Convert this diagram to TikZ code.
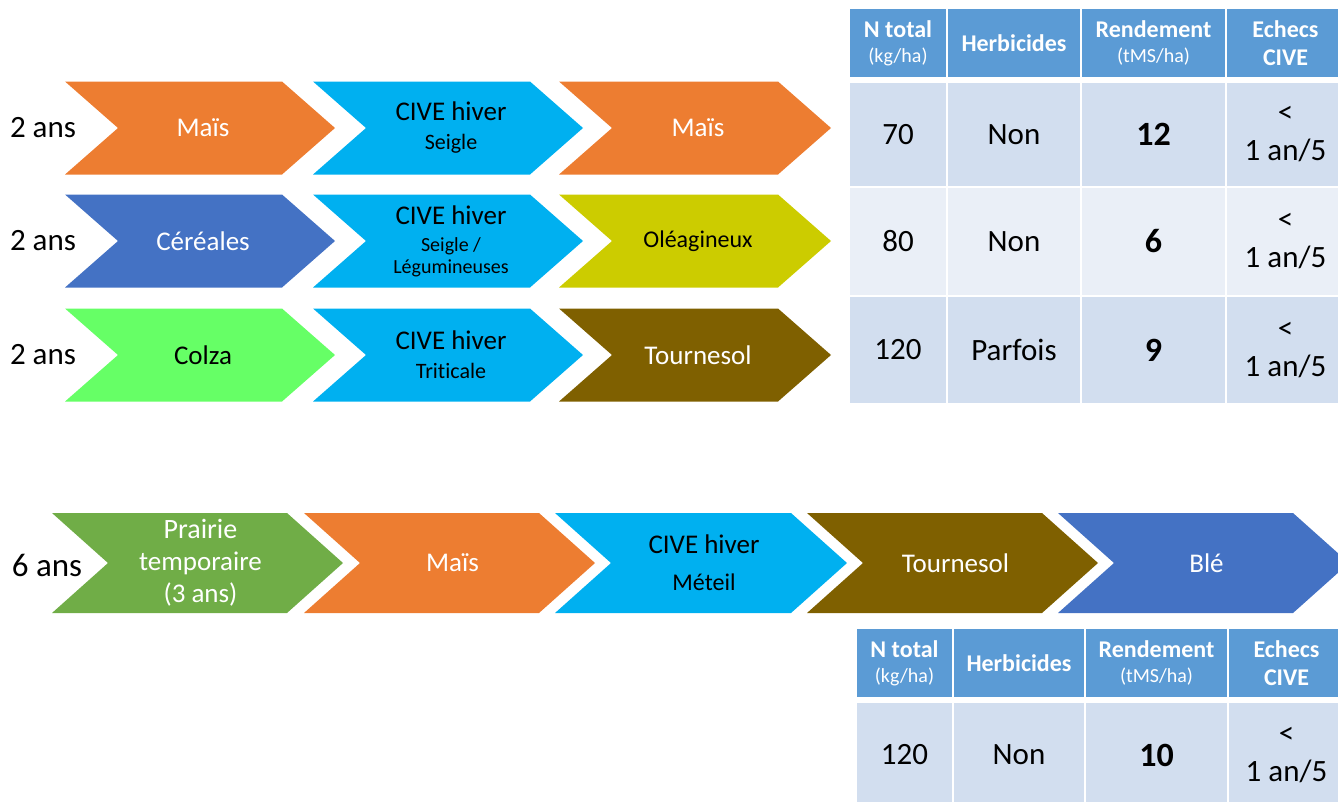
\documentclass[tikz,border=0pt]{standalone}
\usepackage{fontspec}
\setmainfont{Carlito}[Ligatures=NoCommon]
\usepackage{xcolor}
\usepackage{tikz}

\definecolor{maisorange}{HTML}{ED7D31}
\definecolor{civecyan}{HTML}{00B0F0}
\definecolor{cerealblue}{HTML}{4472C4}
\definecolor{oleayellow}{HTML}{CCCC00}
\definecolor{colzagreen}{HTML}{66FF66}
\definecolor{tournbrown}{HTML}{7F6000}
\definecolor{prairiegreen}{HTML}{70AD47}
\definecolor{headblue}{HTML}{5B9BD5}
\definecolor{rowdark}{HTML}{D2DEEF}
\definecolor{rowlight}{HTML}{EAEFF7}

\tikzset{
  chevtext/.style={align=center, inner sep=0pt, font=\fontsize{27}{32}\selectfont},
  yearlabel/.style={inner sep=0pt, font=\fontsize{31}{38}\selectfont},
  headcell/.style={align=center, inner sep=0pt, text=white, font=\fontsize{24}{28}\selectfont\bfseries},
  bodycell/.style={align=center, inner sep=0pt, font=\fontsize{31}{38}\selectfont},
  cellgap/.style={draw=white, line width=2pt}
}

% name, left x, centre y, width, height, depth, fill, text colour, text
\newcommand{\chevron}[9]{%
  \fill[#7] ({#2},{#3-#5/2}) -- ({#2+#4-#6},{#3-#5/2}) -- ({#2+#4},{#3})
    -- ({#2+#4-#6},{#3+#5/2}) -- ({#2},{#3+#5/2}) -- ({#2+#6},{#3}) -- cycle;
  \node[chevtext, text=#8] (#1) at ({#2+#4/2+3},{#3}) {#9};
}
% name, x0, y0, x1, y1, fill, node style, text
\newcommand{\tabcell}[8]{%
  \fill[#6, cellgap] ({#2},{#3}) rectangle ({#4},{#5});
  \node[#7] (#1) at ({(#2+#4)/2},{(#3+#5)/2}) {#8};
}
\newcommand{\sub}[1]{{\fontsize{22}{25}\selectfont #1}}
\newcommand{\unit}[1]{{\fontsize{20}{22}\selectfont\mdseries #1}}
\newcommand{\echec}{<\\1 an/5}

\begin{document}
\begin{tikzpicture}[x=1pt, y=-1pt]
    \useasboundingbox (0,0) rectangle (1338,801);
    \clip (0,0) rectangle (1338,801);

    % rotations sur 2 ans
    \node[yearlabel] (ans1) at (43,128) {2 ans};
    \node[yearlabel] (ans2) at (43,241) {2 ans};
    \node[yearlabel] (ans3) at (43,355) {2 ans};

    \chevron{mais1}{65}{128}{270}{93}{53}{maisorange}{white}{Maïs}
    \chevron{cive1}{313}{128}{270}{93}{53}{civecyan}{black}{CIVE hiver\\[-3pt]\sub{Seigle}}
    \chevron{mais2}{559}{128}{272}{93}{53}{maisorange}{white}{Maïs}

    \chevron{cereales}{65}{241}{270}{93}{53}{cerealblue}{white}{Céréales}
    \chevron{cive2}{313}{241}{270}{93}{53}{civecyan}{black}{CIVE hiver\\[-5pt]{\fontsize{20}{22}\selectfont Seigle /}\\[-10pt]{\fontsize{20}{22}\selectfont Légumineuses}}
    \chevron{oleag}{559}{241}{272}{93}{53}{oleayellow}{black}{\fontsize{24}{28}\selectfont Oléagineux}

    \chevron{colza}{65}{355}{270}{93}{53}{colzagreen}{black}{Colza}
    \chevron{cive3}{313}{355}{270}{93}{53}{civecyan}{black}{CIVE hiver\\[-3pt]\sub{Triticale}}
    \chevron{tourn1}{559}{355}{272}{93}{53}{tournbrown}{white}{Tournesol}

    % tableau du haut
    \tabcell{hN}{849}{8}{947}{78}{headblue}{headcell}{N total\\[-3pt]\unit{(kg/ha)}}
    \tabcell{hH}{947}{8}{1081}{78}{headblue}{headcell}{Herbicides}
    \tabcell{hR}{1081}{8}{1226}{78}{headblue}{headcell}{Rendement\\[-3pt]\unit{(tMS/ha)}}
    \tabcell{hE}{1226}{8}{1345}{78}{headblue}{headcell}{Echecs\\CIVE}

    \tabcell{n1}{849}{82}{947}{187}{rowdark}{bodycell}{70}
    \tabcell{h1}{947}{82}{1081}{187}{rowdark}{bodycell}{Non}
    \tabcell{r1}{1081}{82}{1226}{187}{rowdark}{bodycell}{\bfseries\fontsize{34}{38}\selectfont 12}
    \tabcell{e1}{1226}{82}{1345}{187}{rowdark}{bodycell}{\echec}

    \tabcell{n2}{849}{187}{947}{296}{rowlight}{bodycell}{80}
    \tabcell{h2}{947}{187}{1081}{296}{rowlight}{bodycell}{Non}
    \tabcell{r2}{1081}{187}{1226}{296}{rowlight}{bodycell}{\bfseries\fontsize{34}{38}\selectfont 6}
    \tabcell{e2}{1226}{187}{1345}{296}{rowlight}{bodycell}{\echec}

    \tabcell{n3}{849}{296}{947}{404}{rowdark}{bodycell}{120}
    \tabcell{h3}{947}{296}{1081}{404}{rowdark}{bodycell}{Parfois}
    \tabcell{r3}{1081}{296}{1226}{404}{rowdark}{bodycell}{\bfseries\fontsize{34}{38}\selectfont 9}
    \tabcell{e3}{1226}{296}{1345}{404}{rowdark}{bodycell}{\echec}

    % rotation sur 6 ans
    \node[yearlabel, font=\fontsize{33}{38}\selectfont] (ans6) at (47,565) {6 ans};

    \chevron{prairie}{52}{563}{291}{100}{56}{prairiegreen}{white}{\fontsize{28}{32}\selectfont Prairie\\temporaire\\(3 ans)}
    \chevron{mais3}{304}{563}{291}{100}{56}{maisorange}{white}{Maïs}
    \chevron{cive4}{555}{563}{292}{100}{56}{civecyan}{black}{CIVE hiver\\[5pt]{\fontsize{24}{28}\selectfont Méteil}}
    \chevron{tourn2}{807}{563}{291}{100}{56}{tournbrown}{white}{Tournesol}
    \chevron{ble}{1058}{563}{291}{100}{56}{cerealblue}{white}{Blé}

    % tableau du bas
    \tabcell{bhN}{856}{628}{953}{698}{headblue}{headcell}{N total\\[-3pt]\unit{(kg/ha)}}
    \tabcell{bhH}{953}{628}{1085}{698}{headblue}{headcell}{Herbicides}
    \tabcell{bhR}{1085}{628}{1228}{698}{headblue}{headcell}{Rendement\\[-3pt]\unit{(tMS/ha)}}
    \tabcell{bhE}{1228}{628}{1345}{698}{headblue}{headcell}{Echecs\\CIVE}

    \tabcell{bn}{856}{702}{953}{808}{rowdark}{bodycell}{120}
    \tabcell{bh}{953}{702}{1085}{808}{rowdark}{bodycell}{Non}
    \tabcell{br}{1085}{702}{1228}{808}{rowdark}{bodycell}{\bfseries\fontsize{34}{38}\selectfont 10}
    \tabcell{be}{1228}{702}{1345}{808}{rowdark}{bodycell}{\echec}
\end{tikzpicture}
\end{document}
